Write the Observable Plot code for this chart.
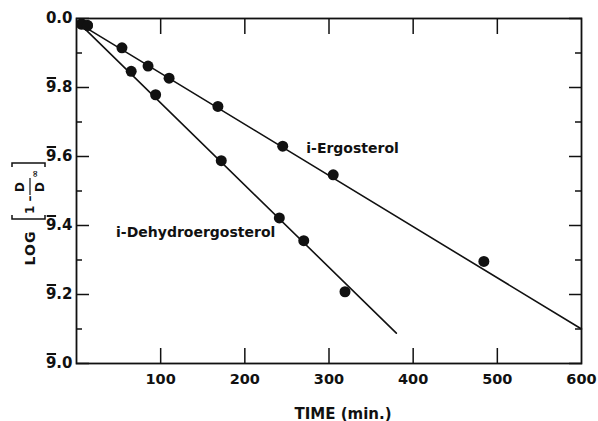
<!DOCTYPE html>
<html><head><meta charset="utf-8">
<script src="https://cdn.jsdelivr.net/npm/d3@7"></script>
<script src="https://cdn.jsdelivr.net/npm/@observablehq/plot@0.6"></script>
<style>html,body{margin:0;padding:0;background:#fff} svg{display:block}</style>
</head><body><div id="chart"></div>
<script>
// Data (log values: 9̄.8 = -0.2, etc.)
const ergoTime = [6, 13, 54, 85, 110, 168, 245, 305, 484];
const ergoLog  = [-0.016, -0.02, -0.085, -0.138, -0.173, -0.255, -0.370, -0.453, -0.704];
const dehydroTime = [6, 13, 65, 94, 172, 241, 270, 319];
const dehydroLog  = [-0.016, -0.02, -0.153, -0.221, -0.412, -0.578, -0.644, -0.792];
// fitted straight lines (end points)
const ergoFitTime = [10, 600];
const ergoFitLog  = [-0.025, -0.90];
const dehydroFitTime = [10, 380];
const dehydroFitLog  = [-0.03, -0.912];
// ticks
const xTickLabels = [100, 200, 300, 400, 500, 600];
const xTicks = [100, 200, 300, 400, 500];
const yMajor = [-1, -0.8, -0.6, -0.4, -0.2, 0];
const yMinor = [-0.9, -0.7, -0.5, -0.3, -0.1];
const seriesNames = ["i-Ergosterol", "i-Dehydroergosterol"];

const toRows = (ts, vs) => ts.map((t, i) => ({t, v: vs[i]}));
const ergo = toRows(ergoTime, ergoLog);
const dehydro = toRows(dehydroTime, dehydroLog);
const ergoFit = toRows(ergoFitTime, ergoFitLog);
const dehydroFit = toRows(dehydroFitTime, dehydroFitLog);

const fmt = v => Math.abs(v) < 1e-9 ? "0.0" : "9." + Math.round((1 + v) * 10);
const font = "'DejaVu Sans', sans-serif";
const ink = "#111";

const chart = Plot.plot({
  width: 598, height: 421,
  marginLeft: 76, marginRight: 17, marginTop: 18, marginBottom: 58,
  x: {domain: [0, 600]},
  y: {domain: [-1, 0]},
  style: {fontFamily: font, background: "#fff", color: ink},
  marks: [
    Plot.frame({stroke: ink, strokeWidth: 1.8}),
    Plot.axisY(yMajor, {anchor: "left", tickSize: 0, tickPadding: 4, tickFormat: fmt, fontSize: 15, fontWeight: "bold", label: null}),
    Plot.axisY(yMajor, {anchor: "left", tickSize: -13, tickFormat: () => "", label: null, strokeWidth: 1.5}),
    Plot.axisY(yMinor, {anchor: "left", tickSize: -6, tickFormat: () => "", label: null, strokeWidth: 1.5}),
    Plot.axisY(yMajor, {anchor: "right", tickSize: -13, tickFormat: () => "", label: null, strokeWidth: 1.5}),
    Plot.axisY(yMinor, {anchor: "right", tickSize: -7, tickFormat: () => "", label: null, strokeWidth: 1.5}),
    Plot.axisX(xTickLabels, {anchor: "bottom", tickSize: 0, tickPadding: 10, fontSize: 14.5, fontWeight: "bold", label: null}),
    Plot.axisX(xTicks, {anchor: "bottom", tickSize: -15, tickFormat: () => "", label: null, strokeWidth: 1.5}),
    Plot.axisX(xTicks, {anchor: "top", tickSize: -15, tickFormat: () => "", label: null, strokeWidth: 1.5}),
    Plot.line(ergoFit, {x: "t", y: "v", stroke: ink, strokeWidth: 1.6}),
    Plot.line(dehydroFit, {x: "t", y: "v", stroke: ink, strokeWidth: 1.6}),
    Plot.dot(ergo, {x: "t", y: "v", r: 5.5, fill: ink}),
    Plot.dot(dehydro, {x: "t", y: "v", r: 5.5, fill: ink}),
    Plot.text([seriesNames[0]], {x: 273, y: -0.377, text: d => d, textAnchor: "start", fontSize: 14, fontWeight: "bold", fill: ink}),
    Plot.text([seriesNames[1]], {x: 47, y: -0.62, text: d => d, textAnchor: "start", fontSize: 14, fontWeight: "bold", fill: ink}),
    Plot.text(["TIME (min.)"], {frameAnchor: "bottom", dx: 14, dy: 55, text: d => d, fontSize: 15, fontWeight: "bold", fill: ink, style: "letter-spacing:3.5px"})
  ]
});
document.getElementById("chart").appendChild(chart);
const svg = d3.select(chart);

// bar over the characteristic digit (9̄) of the negative logarithms
svg.selectAll("text").filter(function() { return /^9\.\d$/.test(this.textContent); }).each(function() {
  let L = 26.5, w9 = 10.4;
  try { L = this.getComputedTextLength(); w9 = this.getSubStringLength(0, 1); } catch (e) {}
  d3.select(this.parentNode).append("line")
    .attr("transform", this.getAttribute("transform"))
    .attr("x1", -L + 0.8).attr("x2", -L + w9 - 0.3)
    .attr("y1", -9.5).attr("y2", -9.5)
    .attr("stroke", ink).attr("stroke-width", 2);
});

// rotated y-axis label: LOG [1 − D/D∞]
const g = svg.append("g").attr("transform", "translate(30,240) rotate(-90)")
  .style("font-family", font).attr("fill", ink).style("font-weight", "bold");
const t = (x, y, size, s, anchor = "middle") => g.append("text").attr("x", x).attr("y", y)
  .attr("text-anchor", anchor).style("font-size", size + "px").text(s);
t(-8, 5, 14, "LOG").style("letter-spacing", "1px");
g.append("path").attr("d", "M25,-18 L21,-18 L21,15 L25,15").attr("fill", "none").attr("stroke", ink).attr("stroke-width", 1.5);
g.append("path").attr("d", "M73,-18 L77,-18 L77,15 L73,15").attr("fill", "none").attr("stroke", ink).attr("stroke-width", 1.5);
t(26, 4, 12, "1 –", "start");
t(53, -6, 12, "D");
g.append("path").attr("d", "M45,0 L62,0").attr("stroke", ink).attr("stroke-width", 1.2);
t(53, 14, 12, "D");
t(66, 8, 9, "∞");
</script>
</body></html>
